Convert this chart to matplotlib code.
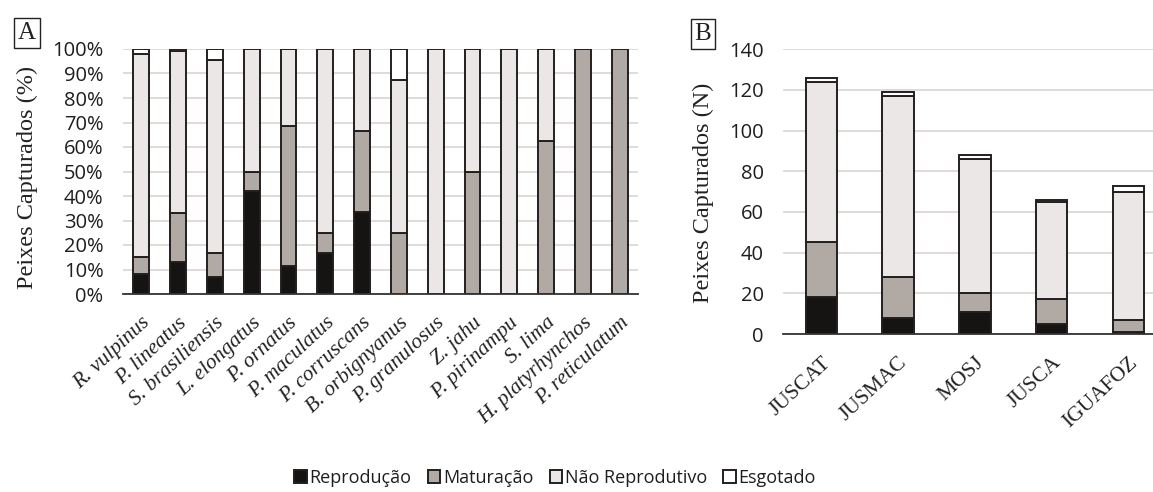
import numpy as np
import matplotlib
matplotlib.use("Agg")
import matplotlib.pyplot as plt
from matplotlib.patches import Patch

# Panel A: percent per species
species = ["R. vulpinus", "P. lineatus", "S. brasiliensis", "L. elongatus",
           "P. ornatus", "P. maculatus", "P. corruscans", "B. orbignyanus",
           "P. granulosus", "Z. jahu", "P. pirinampu", "S. lima",
           "H. platyrhynchos", "P. reticulatum"]
a_reproducao = [8, 13, 7, 42, 11.5, 16.7, 33.3, 0, 0, 0, 0, 0, 0, 0]
a_maturacao = [7, 20, 9.7, 8, 57, 8.3, 33.4, 25, 0, 50, 0, 62.5, 100, 100]
a_nao_reprod = [83, 66, 78.8, 50, 31.5, 75, 33.3, 62.5, 100, 50, 100, 37.5, 0, 0]
a_esgotado = [2, 1, 4.5, 0, 0, 0, 0, 12.5, 0, 0, 0, 0, 0, 0]

# Panel B: counts per site
sites = ["JUSCAT", "JUSMAC", "MOSJ", "JUSCA", "IGUAFOZ"]
b_reproducao = [18, 8, 11, 5, 1]
b_maturacao = [27, 20, 9, 12, 6]
b_nao_reprod = [79, 89, 66, 48, 63]
b_esgotado = [2, 2, 2, 1, 3]

legend_labels = ["Reprodução", "Maturação", "Não Reprodutivo", "Esgotado"]
colors = ["#161412", "#b1a9a4", "#ebe7e6", "#ffffff"]
edge = "#231f1e"
grid_color = "#dcd8d8"

serif = "Liberation Serif"
sans = "Open Sans"

fig = plt.figure(figsize=(11.53, 4.92), dpi=100)
ax_a = fig.add_axes([123 / 1153, 1 - 294 / 492, 515 / 1153, 245 / 492])
ax_b = fig.add_axes([783 / 1153, 1 - 334 / 492, 370 / 1153, 284.7 / 492])


def stacked(ax, n, series, width):
    x = np.arange(n)
    bottom = np.zeros(n)
    for vals, c in zip(series, colors):
        vals = np.array(vals, dtype=float)
        mask = vals > 0
        ax.bar(x[mask], vals[mask], width, bottom=bottom[mask], color=c,
               edgecolor=edge, linewidth=1.4, zorder=3)
        bottom += vals
    return x


def style(ax):
    ax.grid(axis="y", color=grid_color, linewidth=1.3, zorder=0)
    for s in ["top", "right", "left"]:
        ax.spines[s].set_visible(False)
    ax.spines["bottom"].set_color("#333333")
    ax.spines["bottom"].set_linewidth(1.3)
    ax.spines["bottom"].set_zorder(4)
    ax.tick_params(axis="both", length=0)
    ax.tick_params(axis="y", pad=14, labelsize=14.5, labelcolor="#1e1e1e")
    for lab in ax.get_yticklabels():
        lab.set_family(sans)


# Panel A
xa = stacked(ax_a, len(species), [a_reproducao, a_maturacao, a_nao_reprod, a_esgotado], 0.43)
ax_a.set_ylim(0, 100)
ax_a.set_xlim(-0.5, len(species) - 0.5)
ax_a.set_yticks(np.arange(0, 101, 10))
ax_a.set_yticklabels([f"{v}%" for v in range(0, 101, 10)])
ax_a.set_xticks(xa)
ax_a.set_xticklabels(species, rotation=43, ha="right", va="top", rotation_mode="anchor",
                     family=serif, style="italic", fontsize=15.5, color="#222222")
style(ax_a)
ax_a.tick_params(axis="x", pad=14)

# Panel B
xb = stacked(ax_b, len(sites), [b_reproducao, b_maturacao, b_nao_reprod, b_esgotado], 0.41)
ax_b.set_ylim(0, 140)
ax_b.set_xlim(-0.5, 4.32)
ax_b.set_yticks(np.arange(0, 141, 20))
ax_b.set_xticks(xb)
ax_b.set_xticklabels(sites, rotation=43, ha="right", va="top", rotation_mode="anchor",
                     family=serif, fontsize=15.5, color="#222222")
style(ax_b)
ax_b.tick_params(axis="x", pad=14)

# y labels
fig.text(27 / 1153, 1 - 177 / 492, "Peixes Capturados (%)", rotation=90,
         ha="center", va="center", family=serif, fontsize=17.5, color="#222222")
fig.text(703 / 1153, 1 - 193 / 492, "Peixes Capturados (N)", rotation=90,
         ha="center", va="center", family=serif, fontsize=17.5, color="#222222")

# panel letters
box = dict(boxstyle="square,pad=0.15", facecolor="white", edgecolor="#222222", linewidth=1)
fig.text(27 / 1153, 1 - 33 / 492, "A", ha="center", va="center", family=serif,
         fontsize=18, color="#222222", bbox=box)
fig.text(703 / 1153, 1 - 34 / 492, "B", ha="center", va="center", family=serif,
         fontsize=18, color="#222222", bbox=box)

handles = [Patch(facecolor=c, edgecolor=edge, linewidth=1.4) for c in colors]
leg = fig.legend(handles, legend_labels, loc="center", bbox_to_anchor=(555 / 1153, 1 - 478 / 492),
                 ncol=4, frameon=False, handlelength=0.7, handleheight=0.7,
                 handletextpad=0.15, columnspacing=0.9,
                 prop={"family": sans, "size": 13})
for t in leg.get_texts():
    t.set_color("#1e1e1e")

fig.savefig("out.png", dpi=100)
